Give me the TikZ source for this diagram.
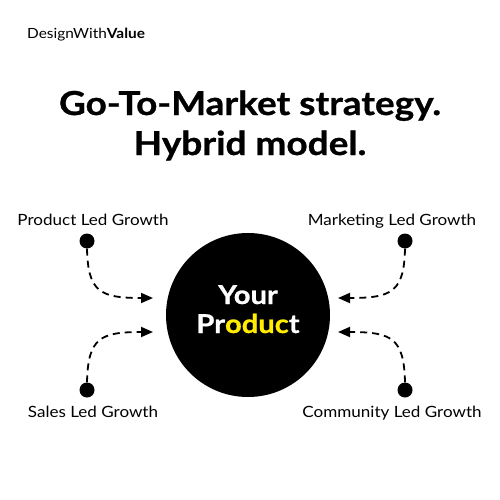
\documentclass[tikz,border=0pt]{standalone}
\usepackage{fontspec}
\setmainfont{Lato}[FakeStretch=1.1]
\newfontfamily\heavyfont{Lato}[FakeStretch=1.12,BoldFeatures={FakeBold=0.8}]
\usetikzlibrary{arrows.meta}
\definecolor{brandyellow}{RGB}{255,236,0}

\begin{document}
\begin{tikzpicture}[x=1pt,y=-1pt]
        \tikzset{dot/.style = {shape=circle,fill=black,minimum size=15pt,inner sep=0pt}}
        \tikzset{growth/.style = {anchor=base,font=\fontsize{15.5}{18}\selectfont}}
        \tikzset{headline/.style = {anchor=base,font=\heavyfont\fontsize{33}{38}\selectfont\bfseries}}
        \tikzset{flow/.style = {line width=1.8pt,dash pattern=on 7pt off 5pt,-{Triangle[length=12pt,width=10pt]}}}
        \useasboundingbox[fill=white] (0,0) rectangle (500,500);
        \node[anchor=base west,inner sep=0pt,font=\fontsize{14}{16}\selectfont] (brand) at (27,39) {DesignWith\textbf{Value}};
        \node[headline] (title) at (250,115) {Go-To-Market strategy.};
        \node[headline] (subtitle) at (250,155) {Hybrid model.};
        \node[shape=circle,fill=black,minimum size=164pt,inner sep=0pt] (product) at (248,315) {};
        \node[anchor=base,font=\heavyfont\fontsize{26}{30}\selectfont\bfseries,text=white] (your) at (248,304) {Your};
        \node[anchor=base,font=\heavyfont\fontsize{26}{30}\selectfont\bfseries,text=white] (prod) at (248,333) {Pr\textcolor{brandyellow}{oduc}t};
        % growth models
        \node[dot] (plg) at (87,241) {};
        \node[dot] (mlg) at (405,241) {};
        \node[dot] (slg) at (87,390) {};
        \node[dot] (clg) at (405,390) {};
        \node[growth] (plgtext) at (93,225) {Product Led Growth};
        \node[growth] (mlgtext) at (392,225) {Marketing Led Growth};
        \node[growth] (slgtext) at (93,417) {Sales Led Growth};
        \node[growth] (clgtext) at (392,417) {Community Led Growth};
        \coordinate (inA) at (153,298);
        \coordinate (inB) at (338,298);
        \coordinate (inC) at (153,332);
        \coordinate (inD) at (338,332);
        \draw[flow] (plg.south) .. controls (88,292) and (100,298) .. (inA);
        \draw[flow] (mlg.south) .. controls (404,292) and (392,298) .. (inB);
        \draw[flow] (slg.north) .. controls (88,338) and (100,332) .. (inC);
        \draw[flow] (clg.north) .. controls (404,338) and (392,332) .. (inD);
    \end{tikzpicture}
\end{document}
